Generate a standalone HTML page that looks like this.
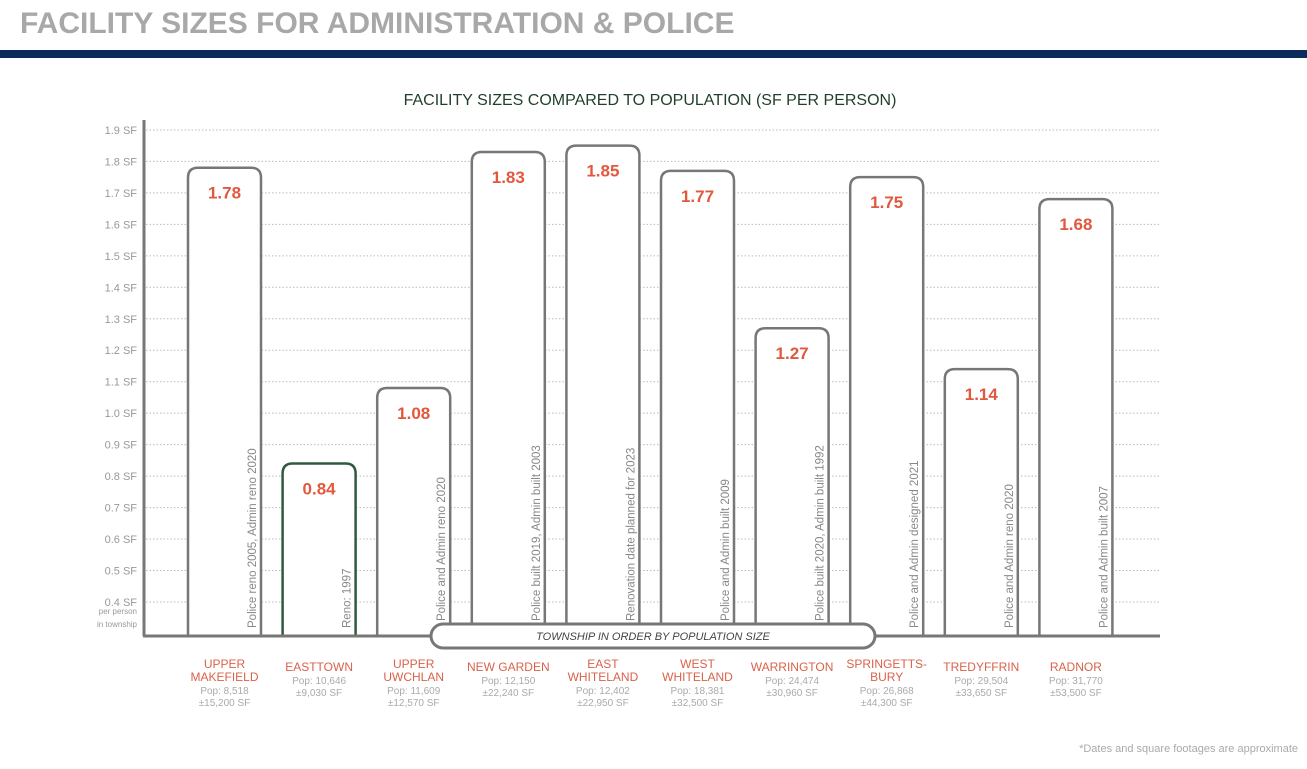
<!DOCTYPE html>
<html><head><meta charset="utf-8"><style>
body{margin:0;background:#fff;width:1307px;height:764px;overflow:hidden;font-family:"Liberation Sans",sans-serif}
</style></head><body>
<svg id="c" width="1307" height="764">
<text x="20" y="33" font-size="30" font-weight="bold" fill="#a8a8a8">FACILITY SIZES FOR ADMINISTRATION &amp; POLICE</text>
<rect x="0" y="50" width="1307" height="8" fill="#0c2b5b"/>
<text x="650" y="105" font-size="16" text-anchor="middle" fill="#1f3f2a">FACILITY SIZES COMPARED TO POPULATION (SF PER PERSON)</text>
<g id="grid"></g><g id="bars"></g>
<text x="1298" y="752" font-size="11" text-anchor="end" fill="#aaa">*Dates and square footages are approximate</text>
</svg>
<script>
const names=[["UPPER","MAKEFIELD"],["EASTTOWN"],["UPPER","UWCHLAN"],["NEW GARDEN"],["EAST","WHITELAND"],["WEST","WHITELAND"],["WARRINGTON"],["SPRINGETTS-","BURY"],["TREDYFFRIN"],["RADNOR"]];
const values=[1.78,0.84,1.08,1.83,1.85,1.77,1.27,1.75,1.14,1.68];
const pops=["Pop: 8,518","Pop: 10,646","Pop: 11,609","Pop: 12,150","Pop: 12,402","Pop: 18,381","Pop: 24,474","Pop: 26,868","Pop: 29,504","Pop: 31,770"];
const sfs=["±15,200 SF","±9,030 SF","±12,570 SF","±22,240 SF","±22,950 SF","±32,500 SF","±30,960 SF","±44,300 SF","±33,650 SF","±53,500 SF"];
const notes=["Police reno 2005, Admin reno 2020","Reno: 1997","Police and Admin reno 2020","Police built 2019, Admin built 2003","Renovation date planned for  2023","Police and Admin built 2009","Police built 2020, Admin built 1992","Police and Admin designed 2021","Police and Admin reno 2020","Police and Admin built 2007"];
const ticks=[0.4,0.5,0.6,0.7,0.8,0.9,1.0,1.1,1.2,1.3,1.4,1.5,1.6,1.7,1.8,1.9];
const NS="http://www.w3.org/2000/svg";
const y=v=>602-(v-0.4)*314.7;
const xs=i=>188+i*94.6;
const BW=73,BASE=636;
function mk(t,a,p){const e=document.createElementNS(NS,t);for(const k in a)e.setAttribute(k,a[k]);p.appendChild(e);return e;}
const g=document.getElementById('grid'),b=document.getElementById('bars');
ticks.forEach(t=>{
 const l=mk('line',{x1:146,x2:1160,y1:y(t),y2:y(t),stroke:'#bbb','stroke-dasharray':'1.5 2'},g);
 
 
 const tx=mk('text',{x:137,y:y(t)+4,'font-size':11,fill:'#999','text-anchor':'end'},g);
 tx.textContent=t.toFixed(1)+' SF';
 
 
});
[["per person",614],["in township",627]].forEach(([s,yy])=>{const t=mk('text',{x:137,y:yy,'font-size':8,fill:'#999','text-anchor':'end'},g);t.textContent=s;
 
 });
const ax=mk('line',{x1:144,x2:144,y1:120,y2:BASE,stroke:'#777','stroke-width':3},g);


values.forEach((v,i)=>{
 const x=xs(i),top=y(v),col=i==1?'#2f5a3e':'#777';
 const p=mk('path',{d:`M${x} ${BASE}V${top+10}Q${x} ${top} ${x+10} ${top}H${x+BW-10}Q${x+BW} ${top} ${x+BW} ${top+10}V${BASE}`,fill:'#fff',stroke:col,'stroke-width':2.5},b);
 
 
 const vt=mk('text',{x:x+BW/2,y:top+31,'font-size':17,'font-weight':'bold',fill:'#e2583e','text-anchor':'middle'},b);
 vt.textContent=v.toFixed(2);
 
 
 const ny=(i>=2&&i<=6)?621:628;
 const nt=mk('text',{x:x+BW-5,y:ny,'font-size':11.5,fill:'#888',transform:`rotate(-90 ${x+BW-5} ${ny})`},b);
 nt.textContent=notes[i];
 
 
 const cx=x+BW/2;let ly=names[i].length==2?668:671;
 names[i].forEach((s,k)=>{const t=mk('text',{x:cx,y:ly+k*13,'font-size':12,fill:'#d9624a','text-anchor':'middle'},b);t.textContent=s;
  
  });
 const py=ly+names[i].length*13;
 [pops[i],sfs[i]].forEach((s,k)=>{const t=mk('text',{x:cx,y:py+k*12,'font-size':10,fill:'#aaa','text-anchor':'middle'},b);t.textContent=s;
  
  });
});
const bl=mk('line',{x1:143,x2:1160,y1:BASE,y2:BASE,stroke:'#777','stroke-width':3},b);


const bn=mk('rect',{x:431,y:624,width:444,height:24,rx:12,fill:'#fff',stroke:'#777','stroke-width':3},b);


const bt=mk('text',{x:653,y:640,'font-size':11,'font-style':'italic',fill:'#444','text-anchor':'middle'},b);
bt.textContent='TOWNSHIP IN ORDER BY POPULATION SIZE';


</script>
</body></html>
